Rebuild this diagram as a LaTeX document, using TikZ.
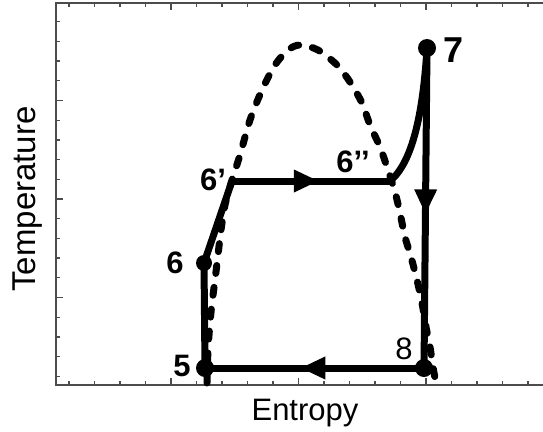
\documentclass[tikz,border=0pt]{standalone}
\usepackage{fontspec}
\setmainfont{Liberation Sans}
\usetikzlibrary{arrows.meta,decorations.markings}

\tikzset{
  axisline/.style={draw=black!70, line width=1.3pt},
  cycleline/.style={line width=7pt, line join=round},
  domeline/.style={line width=7pt, dash pattern=on 8pt off 14pt, line cap=round},
  dot/.style={circle, fill=black, inner sep=0pt, minimum size=18pt},
  numlabel/.style={inner sep=0pt, font=\fontsize{31}{33}\selectfont\bfseries},
  midarrow/.style={postaction={decorate, decoration={markings,
      mark=at position #1 with {\arrow{Triangle[length=25pt,width=21pt]}}}}},
}

\begin{document}
\begin{tikzpicture}[x=1pt, y=-1pt]
  \useasboundingbox[fill=white] (0,0) rectangle (543,431);

  % frame and ticks
  \draw[axisline] (543,3) -- (56,3) -- (56,385) -- (543,385);
  \foreach \k in {0,...,18} {
    \pgfmathsetmacro{\tl}{ifthenelse(mod(\k,5)==4,7,4)}
    \draw[axisline] ({69+25.5*\k},385) -- ++(0,-\tl);
    \draw[axisline] ({69+25.5*\k},3) -- ++(0,\tl);
    \draw[axisline] (56,{21.7+19.7*\k}) -- ++(\tl,0);
  }

  % axis titles
  \node[rotate=90, anchor=base, font=\fontsize{33}{36}\selectfont] (ylab) at (35,199) {Temperature};
  \node[anchor=base, font=\fontsize{31}{34}\selectfont] (xlab) at (305,420) {Entropy};

  % saturation dome
  \draw[domeline] plot[smooth] coordinates {
    (207,383) (208,350) (210,323) (212,303) (215,280) (218,255) (221,230)
    (225,205) (232,180) (240,155) (250,120) (262,90) (275,65) (288,50)
    (300,45) (318,50) (337,65) (350,82) (362,103) (370,125) (380,147)
    (388,170) (395,192) (400,213) (405,237) (411,257) (417,280) (422,303)
    (426,327) (430,347) (433,367) (435,378)};

  % cycle states
  \coordinate (p5) at (205,368);
  \coordinate (p6) at (204,263);
  \coordinate (p6a) at (232,181);
  \coordinate (p6b) at (390,181);
  \coordinate (p7) at (427,48);
  \coordinate (p8) at (424,368);

  % cycle
  \draw[cycleline] (p5) -- (p6) -- (p6a);
  \draw[cycleline, midarrow=0.55] (p6a) -- (p6b);
  \draw[cycleline] (p6b) .. controls (412,163) and (423,115) .. (p7);
  \draw[cycleline, midarrow=0.52] (p7) -- (p8);
  \draw[cycleline, midarrow=0.565] (p8) -- (p5);

  \node[dot] (d5) at (p5) {};
  \node[dot, minimum size=16pt] (d6) at (p6) {};
  \node[dot] (d7) at (p7) {};
  \node[dot] (d8) at (p8) {};

  % state labels
  \node[numlabel] (l5) at (182,366) {5};
  \node[numlabel] (l6) at (175,263) {6};
  \node[numlabel] (l6a) at (213,180) {6’};
  \node[numlabel] (l6b) at (353,162) {6’’};
  \node[numlabel, font=\fontsize{36}{38}\selectfont\bfseries] (l7) at (454,50) {7};
  \node[numlabel, font=\fontsize{31}{32}\selectfont] (l8) at (404,349) {8};
\end{tikzpicture}
\end{document}
